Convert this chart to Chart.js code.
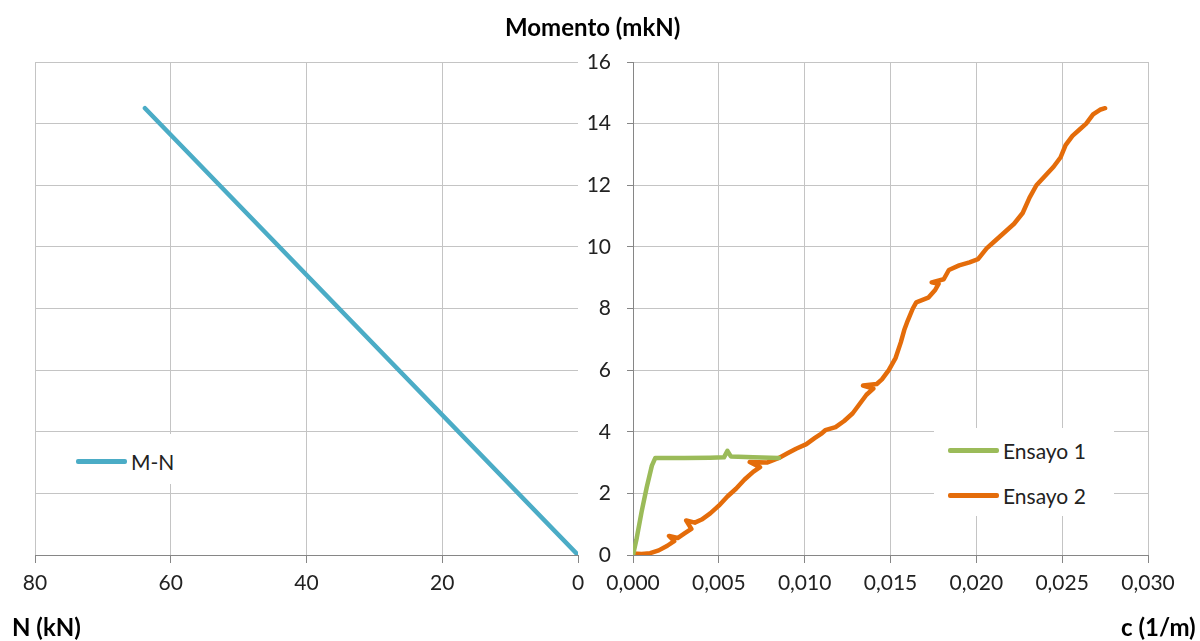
<!DOCTYPE html>
<html>
<head>
<meta charset="utf-8">
<script src="https://cdn.jsdelivr.net/npm/chart.js@4"></script>
<style>
  body { margin: 0; background: #fff; font-family: Lato, "Open Sans", sans-serif; }
  #wrap { position: relative; width: 1200px; height: 641px; overflow: hidden; }
  canvas { position: absolute; top: 0; }
  #leftChart  { left: 0; }
  #rightChart { left: 560px; }
  .lbl { position: absolute; font-weight: bold; color: #000; white-space: nowrap; }
  .legend { position: absolute; background: #fff; font-size: 21px; color: #222; }
  .legend .row { position: absolute; display: flex; align-items: center; height: 24px; }
  .legend .swatch { width: 51px; height: 5px; margin-right: 4px; border-radius: 2px; }
</style>
</head>
<body>
<div id="wrap">
  <canvas id="leftChart" width="600" height="641"></canvas>
  <canvas id="rightChart" width="640" height="641"></canvas>

  <div class="lbl" style="left:505px; top:12px; font-size:24px;">Momento (mkN)</div>
  <div class="lbl" style="left:12px; top:612px; font-size:24px;">N (kN)</div>
  <div class="lbl" style="left:1121px; top:612px; font-size:24px;">c (1/m)</div>

  <div class="legend" style="left:70px; top:434px; width:112px; height:50px;">
    <div class="row" style="left:6px; top:15px;"><span class="swatch" style="background:#4bacc6"></span>M-N</div>
  </div>
  <div class="legend" style="left:934px; top:428px; width:180px; height:88px;">
    <div class="row" style="left:14px; top:10px;"><span class="swatch" style="background:#9bbb59"></span>Ensayo 1</div>
    <div class="row" style="left:14px; top:55px;"><span class="swatch" style="background:#e46c0a"></span>Ensayo 2</div>
  </div>
</div>

<script>
// ===== DATA =====
const nTicks = [0, 20, 40, 60, 80];
const mTicks = [0, 2, 4, 6, 8, 10, 12, 14, 16];
const cTicks = [0, 0.005, 0.010, 0.015, 0.020, 0.025, 0.030];

// M-N interaction line (N kN, M mkN)
const mnN = [63.8, 0];
const mnM = [14.5, 0];

// Ensayo 1 (curvature 1/m, moment mkN)
const e1C = [0, 0.0002, 0.0005, 0.0008, 0.0011, 0.0013, 0.0030, 0.0045, 0.0053, 0.0055, 0.0057, 0.0070, 0.0085];
const e1M = [0, 0.5, 1.4, 2.2, 2.9, 3.15, 3.15, 3.16, 3.17, 3.38, 3.2, 3.17, 3.15];

// Ensayo 2
const e2C = [0, 0.0005, 0.0010, 0.0015, 0.0020, 0.0024, 0.0021, 0.0026, 0.0030, 0.0034, 0.0031, 0.0036, 0.0040,
  0.0045, 0.0050, 0.0055, 0.0060, 0.0065, 0.0070, 0.0074, 0.0068, 0.0078, 0.0085, 0.0090, 0.0095, 0.0101,
  0.0106, 0.0110, 0.0112, 0.0118, 0.0123, 0.0128, 0.0132, 0.0136, 0.0140, 0.0134, 0.0142, 0.0145, 0.0149,
  0.0153, 0.0156, 0.0158, 0.0160, 0.0163, 0.0165, 0.0172, 0.0176, 0.0178, 0.0174, 0.0181, 0.0184, 0.0190,
  0.0196, 0.0201, 0.0206, 0.0210, 0.0216, 0.0222, 0.0227, 0.0231, 0.0235, 0.0240, 0.0245, 0.0249, 0.0252,
  0.0256, 0.0260, 0.0264, 0.0268, 0.0272, 0.0275];
const e2M = [0.05, 0.03, 0.06, 0.15, 0.3, 0.45, 0.62, 0.55, 0.7, 0.85, 1.12, 1.05, 1.15,
  1.35, 1.6, 1.9, 2.15, 2.45, 2.7, 2.85, 3.02, 3.0, 3.15, 3.3, 3.45, 3.6,
  3.8, 3.95, 4.05, 4.15, 4.35, 4.6, 4.9, 5.2, 5.4, 5.5, 5.55, 5.7, 6.0,
  6.4, 6.9, 7.3, 7.6, 8.0, 8.2, 8.35, 8.6, 8.8, 8.85, 8.95, 9.25, 9.4,
  9.5, 9.6, 9.95, 10.15, 10.45, 10.75, 11.1, 11.6, 12.0, 12.3, 12.6, 12.9, 13.3,
  13.6, 13.8, 14.0, 14.3, 14.45, 14.5];

// ===== STYLE =====
const GRID = '#c4c4c4';
const AXIS = '#868686';
const TICK_FONT = { family: 'Lato, "Open Sans", sans-serif', size: 21 };

const pts = (xs, ys) => xs.map((x, i) => ({ x, y: ys[i] }));
const gridNoZero = ctx => (ctx.tick && Math.abs(ctx.tick.value) < 1e-9) ? 'rgba(0,0,0,0)' : GRID;

function lineSet(label, data, color) {
  return {
    label, data,
    showLine: true,
    borderColor: color,
    backgroundColor: color,
    borderWidth: 4.5,
    pointRadius: 0,
    tension: 0,
    borderCapStyle: 'round',
    borderJoinStyle: 'round',
  };
}

Chart.defaults.animation = false;
Chart.defaults.responsive = false;

// ======== LEFT: M-N ========
new Chart(document.getElementById('leftChart'), {
  type: 'scatter',
  data: { datasets: [lineSet('M-N', pts(mnN, mnM), '#4bacc6')] },
  options: {
    layout: { padding: { left: 35, top: 62, right: 22, bottom: 0 } },
    plugins: { legend: { display: false }, tooltip: { enabled: false } },
    scales: {
      x: {
        type: 'linear', reverse: true, min: nTicks[0], max: nTicks[nTicks.length - 1],
        afterBuildTicks: s => { s.ticks = nTicks.map(v => ({ value: v })); },
        afterFit: s => { s.height = 86; },
        grid: { color: gridNoZero, tickLength: 8, tickColor: AXIS },
        border: { color: AXIS },
        ticks: { font: TICK_FONT, color: '#222', padding: 8, maxRotation: 0 },
      },
      y: {
        min: 0, max: 16,
        afterBuildTicks: s => { s.ticks = mTicks.map(v => ({ value: v })); },
        afterFit: s => { s.width = 0; },
        grid: { color: gridNoZero, drawTicks: false },
        border: { display: false },
        ticks: { display: false },
      },
    },
  },
});

// ======== RIGHT: M-c ========
new Chart(document.getElementById('rightChart'), {
  type: 'scatter',
  data: {
    datasets: [
      lineSet('Ensayo 1', pts(e1C, e1M), '#9bbb59'),
      lineSet('Ensayo 2', pts(e2C, e2M), '#e46c0a'),
    ],
  },
  options: {
    layout: { padding: { left: 0, top: 62, right: 52, bottom: 0 } },
    plugins: { legend: { display: false }, tooltip: { enabled: false } },
    scales: {
      x: {
        type: 'linear', min: 0, max: 0.03,
        afterBuildTicks: s => { s.ticks = cTicks.map(v => ({ value: v })); },
        afterFit: s => { s.height = 86; },
        grid: { color: gridNoZero, tickLength: 8, tickColor: AXIS },
        border: { color: AXIS },
        ticks: {
          font: TICK_FONT, color: '#222', padding: 8, maxRotation: 0,
          callback: v => v.toFixed(3).replace('.', ','),
        },
      },
      y: {
        min: 0, max: 16,
        afterBuildTicks: s => { s.ticks = mTicks.map(v => ({ value: v })); },
        afterFit: s => { s.width = 73; },
        grid: { color: gridNoZero, tickLength: 6, tickColor: AXIS },
        border: { color: AXIS },
        ticks: { font: TICK_FONT, color: '#222', padding: 16 },
      },
    },
  },
});
</script>
</body>
</html>
